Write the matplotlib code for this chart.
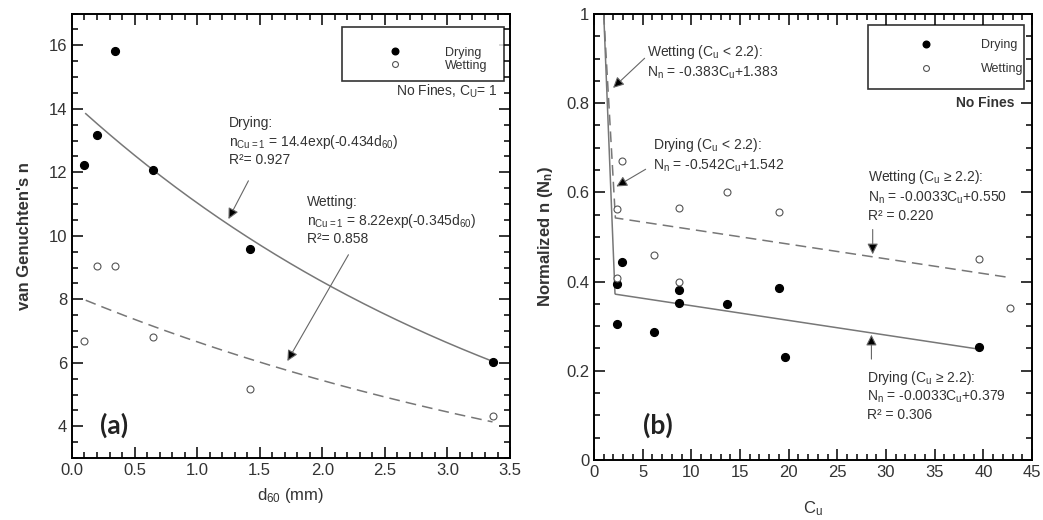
import numpy as np
import matplotlib.pyplot as plt
from matplotlib.ticker import MultipleLocator

plt.rcParams['font.family'] = ['Liberation Sans', 'DejaVu Sans']
plt.rcParams['mathtext.default'] = 'regular'

# (a) van Genuchten n vs d60, no fines
d60 = [0.1, 0.2, 0.34, 0.65, 1.42, 3.36]
n_dry = [12.22, 13.17, 15.82, 12.06, 9.60, 6.03]
n_wet = [6.69, 9.04, 9.04, 6.81, 5.19, 4.33]

# exponential trend lines a*exp(-b*d60)
dry_fit = (14.24, 0.2548)
wet_fit = (8.15, 0.2015)
fit_range = (0.11, 3.36)

# (b) normalized n vs Cu
cu_dry = [2.33, 2.33, 2.91, 6.2, 8.77, 8.77, 13.63, 19.04, 19.6, 39.5]
nn_dry = [0.395, 0.304, 0.445, 0.288, 0.381, 0.353, 0.349, 0.385, 0.232, 0.254]
cu_wet = [2.33, 2.33, 2.91, 6.2, 8.77, 8.77, 13.63, 19.04, 39.5, 42.7]
nn_wet = [0.562, 0.407, 0.670, 0.460, 0.566, 0.400, 0.600, 0.557, 0.450, 0.340]

# bilinear fits: (slope, intercept) below and above Cu = 2.2
dry_lo, dry_hi = (-0.542, 1.542), (-0.0033, 0.379)
wet_lo, wet_hi = (-0.383, 1.383), (-0.0033, 0.550)
dry_end, wet_end = 39.5, 42.6

txt = '#333333'
line = '#777777'

fig = plt.figure(figsize=(10.43, 5.2), dpi=100)
ax1 = fig.add_axes([0.069, 0.119, 0.42, 0.855])
ax2 = fig.add_axes([0.5695, 0.1154, 0.42, 0.8577])


def style(ax):
    for s in ax.spines.values():
        s.set_linewidth(1.4)
    ax.tick_params(which='both', direction='in', top=True, right=True,
                   labelsize=12, labelcolor=txt, width=1.1)
    ax.tick_params(which='major', length=8)
    ax.tick_params(which='minor', length=4)


def arrow(ax, tail, tip):
    ax.annotate('', xy=tip, xytext=tail,
                arrowprops=dict(arrowstyle='-|>', ec='#666666', fc='black',
                                lw=0.8, mutation_scale=16))


# ---- panel (a)
ax = ax1
style(ax)
d = np.linspace(*fit_range, 200)
ax.plot(d, dry_fit[0] * np.exp(-dry_fit[1] * d), color=line, lw=1.1)
ax.plot(d, wet_fit[0] * np.exp(-wet_fit[1] * d), color=line, lw=1.1,
        dashes=(7, 4))
ax.plot(d60, n_dry, 'o', color='black', ms=5.6, label='Drying')
ax.plot(d60, n_wet, 'o', mfc='white', mec='#555555', mew=0.8, ms=5,
        label='Wetting')
ax.set_xlim(0, 3.5)
ax.set_ylim(3, 17)
ax.xaxis.set_major_locator(MultipleLocator(0.5))
ax.xaxis.set_minor_locator(MultipleLocator(0.1))
ax.yaxis.set_major_locator(MultipleLocator(2))
ax.yaxis.set_minor_locator(MultipleLocator(0.5))
ax.xaxis.set_major_formatter(lambda v, p: f'{v:.1f}')
ax.set_xlabel('d$_{60}$ (mm)', fontsize=12, color=txt, labelpad=6)
ax.set_ylabel("van Genuchten's n", fontsize=12, fontweight='bold',
              color=txt, labelpad=12)

leg = ax.legend(loc='upper left', bbox_to_anchor=(0.616, 0.852, 0.37, 0.117),
                mode='expand', fontsize=9, frameon=True, fancybox=False,
                edgecolor='black', handlelength=7.0, handletextpad=0.5,
                labelspacing=0.08, borderpad=0.75, borderaxespad=0,
                markerscale=0.85, title=' ', title_fontsize=6.5)
leg.get_frame().set_linewidth(1.2)
for t in leg.get_texts():
    t.set_color(txt)

ax.text(3.40, 14.55, 'No Fines, C$_U$= 1', ha='right', va='center',
        fontsize=10, color=txt)

ax.text(1.255, 13.54, 'Drying:', fontsize=10, color=txt, va='center')
ax.text(1.255, 12.94, 'n$_{Cu=1}$ = 14.4exp(-0.434d$_{60}$)', fontsize=10,
        color=txt, va='center')
ax.text(1.255, 12.38, 'R²= 0.927', fontsize=10, color=txt, va='center')
arrow(ax, (1.42, 11.81), (1.24, 10.45))

ax.text(1.878, 11.06, 'Wetting:', fontsize=10, color=txt, va='center')
ax.text(1.878, 10.46, 'n$_{Cu=1}$ = 8.22exp(-0.345d$_{60}$)', fontsize=10,
        color=txt, va='center')
ax.text(1.878, 9.89, 'R²= 0.858', fontsize=10, color=txt, va='center')
arrow(ax, (2.22, 9.48), (1.71, 5.98))

ax.text(0.22, 4.03, '(a)', fontsize=19, fontweight='bold', va='center',
        family=['Lato', 'DejaVu Sans'], color='#222222')

# ---- panel (b)
ax = ax2
style(ax)
c = np.linspace(1.0, dry_end, 800)
ax.plot(c, np.maximum(dry_lo[0] * c + dry_lo[1], dry_hi[0] * c + dry_hi[1]),
        color=line, lw=1.1)
c = np.linspace(1.0, wet_end, 800)
ax.plot(c, np.maximum(wet_lo[0] * c + wet_lo[1], wet_hi[0] * c + wet_hi[1]),
        color=line, lw=1.1, dashes=(7, 4))
ax.plot(cu_dry, nn_dry, 'o', color='black', ms=5.6, label='Drying')
ax.plot(cu_wet, nn_wet, 'o', mfc='white', mec='#555555', mew=0.8, ms=5,
        label='Wetting')
ax.set_xlim(0, 45)
ax.set_ylim(0, 1)
ax.xaxis.set_major_locator(MultipleLocator(5))
ax.xaxis.set_minor_locator(MultipleLocator(1))
ax.yaxis.set_major_locator(MultipleLocator(0.2))
ax.yaxis.set_minor_locator(MultipleLocator(0.05))
ax.yaxis.set_major_formatter(lambda v, p: f'{v:g}')
ax.set_xlabel('C$_u$', fontsize=12, color=txt, labelpad=14)
ax.set_ylabel('Normalized n (N$_n$)', fontsize=12, fontweight='bold',
              color=txt, labelpad=8)

leg = ax.legend(loc='upper left', bbox_to_anchor=(0.626, 0.836, 0.356, 0.139),
                mode='expand', fontsize=9, frameon=True, fancybox=False,
                edgecolor='black', handlelength=7.0, handletextpad=0.9,
                labelspacing=1.0, borderpad=1.1, borderaxespad=0,
                markerscale=0.85)
leg.get_frame().set_linewidth(1.2)
for t in leg.get_texts():
    t.set_color(txt)

ax.text(43.2, 0.80, 'No Fines', ha='right', va='center', fontsize=10,
        fontweight='bold', color=txt)

ax.text(5.41, 0.915, 'Wetting (C$_u$ < 2.2):', fontsize=10, color=txt,
        va='center')
ax.text(5.41, 0.868, 'N$_n$ = -0.383C$_u$+1.383', fontsize=10, color=txt,
        va='center')
arrow(ax, (5.41, 0.905), (1.75, 0.83))

ax.text(6.09, 0.706, 'Drying (C$_u$ < 2.2):', fontsize=10, color=txt,
        va='center')
ax.text(6.09, 0.659, 'N$_n$ = -0.542C$_u$+1.542', fontsize=10, color=txt,
        va='center')
arrow(ax, (5.55, 0.655), (2.05, 0.61))

ax.text(28.18, 0.635, 'Wetting (C$_u$ ≥ 2.2):', fontsize=10, color=txt,
        va='center')
ax.text(28.18, 0.588, 'N$_n$ = -0.0033C$_u$+0.550', fontsize=10, color=txt,
        va='center')
ax.text(28.18, 0.546, 'R² = 0.220', fontsize=10, color=txt, va='center')
arrow(ax, (28.63, 0.523), (28.63, 0.455))

ax.text(28.02, 0.183, 'Drying (C$_u$ ≥ 2.2):', fontsize=10, color=txt,
        va='center')
ax.text(28.02, 0.142, 'N$_n$ = -0.0033C$_u$+0.379', fontsize=10, color=txt,
        va='center')
ax.text(28.02, 0.101, 'R² = 0.306', fontsize=10, color=txt, va='center')
arrow(ax, (28.5, 0.22), (28.5, 0.287))

ax.text(5.0, 0.078, '(b)', fontsize=19, fontweight='bold', va='center',
        family=['Lato', 'DejaVu Sans'], color='#222222')

fig.savefig('out.png', dpi=100)
